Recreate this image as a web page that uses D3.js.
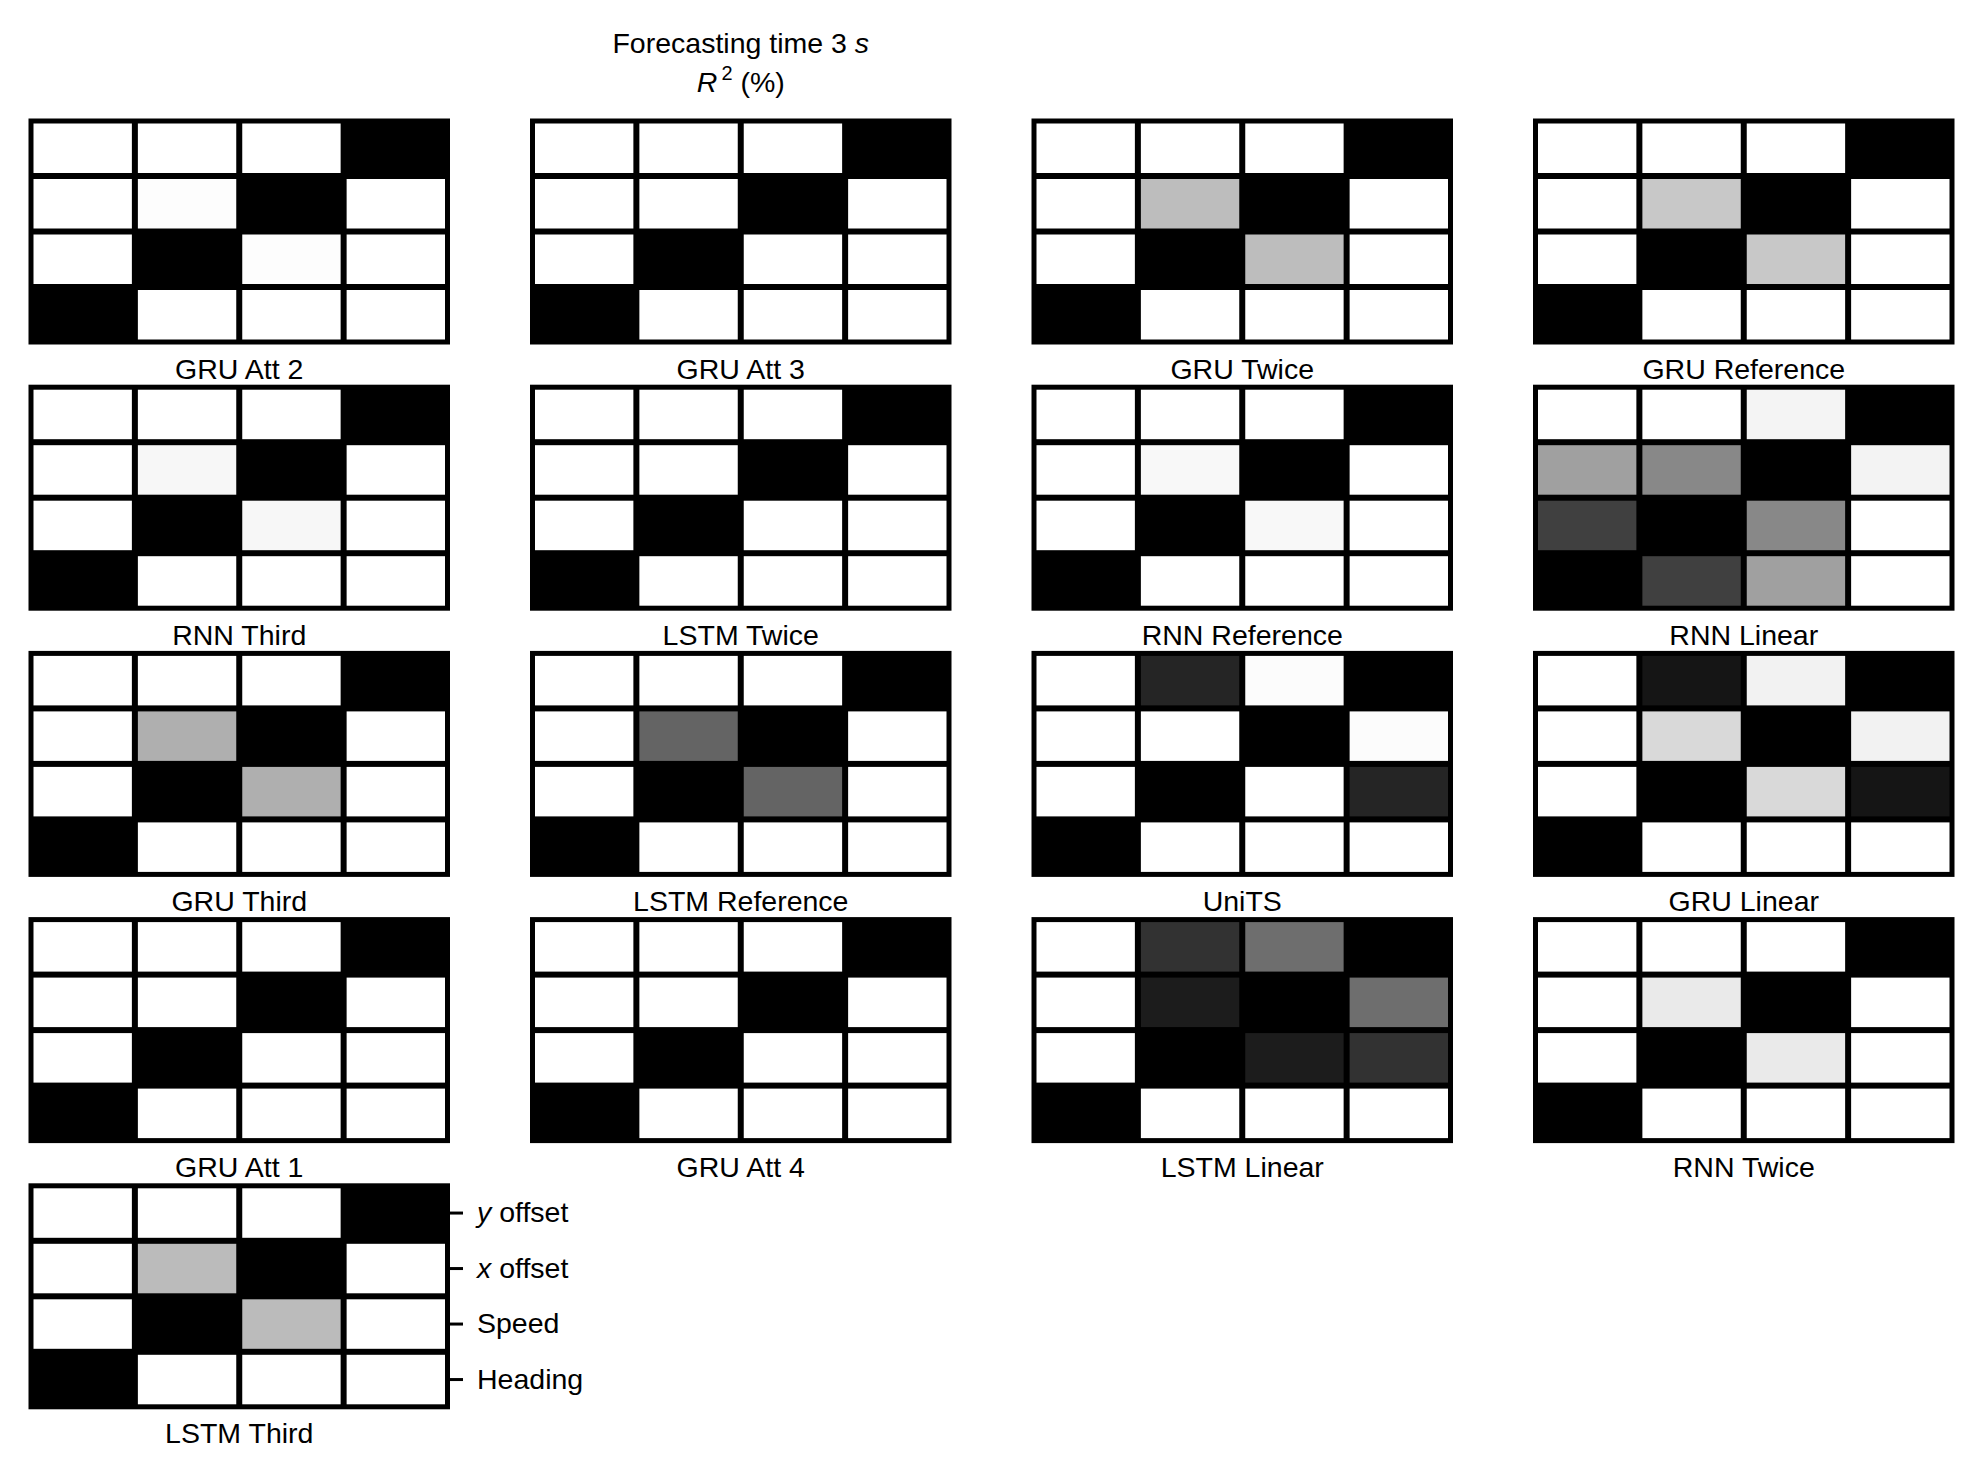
<!DOCTYPE html>
<html>
<head>
<meta charset="utf-8">
<script src="https://cdn.jsdelivr.net/npm/d3@7"></script>
<style>
  html, body { margin: 0; padding: 0; background: #ffffff; }
  svg { display: block; }
  text { font-family: "Liberation Sans", Arial, Helvetica, sans-serif; fill: #000; }
</style>
</head>
<body>
<svg id="chart" width="1982" height="1481"></svg>
<script>
// ---------------- DATA ----------------
// Rows (top to bottom) and columns (left to right) of every 4x4 matrix
const rowFeatures = ["y offset", "x offset", "Speed", "Heading"];
const colFeatures = ["Heading", "Speed", "x offset", "y offset"];

// Panel order (row-major, 4 panels per row)
const modelNames = [
  "GRU Att 2", "GRU Att 3", "GRU Twice", "GRU Reference",
  "RNN Third", "LSTM Twice", "RNN Reference", "RNN Linear",
  "GRU Third", "LSTM Reference", "UniTS", "GRU Linear",
  "GRU Att 1", "GRU Att 4", "LSTM Linear", "RNN Twice",
  "LSTM Third"
];

// R^2 (%) matrices (rows = rowFeatures, cols = colFeatures)
const gruAtt2      = [[0, 0, 0, 100], [0, 0.8, 100, 0], [0, 100, 0.8, 0], [100, 0, 0, 0]];
const gruAtt3      = [[0, 0, 0, 100], [0, 0, 100, 0], [0, 100, 0, 0], [100, 0, 0, 0]];
const gruTwice     = [[0, 0, 0, 100], [0, 25.9, 100, 0], [0, 100, 25.9, 0], [100, 0, 0, 0]];
const gruReference = [[0, 0, 0, 100], [0, 21.6, 100, 0], [0, 100, 21.6, 0], [100, 0, 0, 0]];
const rnnThird     = [[0, 0, 0, 100], [0, 3.0, 100, 0], [0, 100, 3.0, 0], [100, 0, 0, 0]];
const lstmTwice    = [[0, 0, 0, 100], [0, 0, 100, 0], [0, 100, 0, 0], [100, 0, 0, 0]];
const rnnReference = [[0, 0, 0, 100], [0, 2.7, 100, 0], [0, 100, 2.7, 0], [100, 0, 0, 0]];
const rnnLinear    = [[0, 0, 4.3, 100], [37.3, 46.7, 100, 4.7], [74.9, 100, 46.7, 0], [100, 74.9, 37.3, 0]];
const gruThird     = [[0, 0, 0, 100], [0, 31.4, 100, 0], [0, 100, 31.4, 0], [100, 0, 0, 0]];
const lstmReference= [[0, 0, 0, 100], [0, 60.8, 100, 0], [0, 100, 60.8, 0], [100, 0, 0, 0]];
const uniTS        = [[0, 85.5, 1.2, 100], [0, 0, 100, 1.2], [0, 100, 0, 85.5], [100, 0, 0, 0]];
const gruLinear    = [[0, 91.8, 5.1, 100], [0, 14.9, 100, 5.1], [0, 100, 14.9, 91.8], [100, 0, 0, 0]];
const gruAtt1      = [[0, 0, 0, 100], [0, 0, 100, 0], [0, 100, 0, 0], [100, 0, 0, 0]];
const gruAtt4      = [[0, 0, 0, 100], [0, 0, 100, 0], [0, 100, 0, 0], [100, 0, 0, 0]];
const lstmLinear   = [[0, 80.4, 56.9, 100], [0, 89.0, 100, 56.9], [0, 100, 89.0, 80.4], [100, 0, 0, 0]];
const rnnTwice     = [[0, 0, 0, 100], [0, 8.2, 100, 0], [0, 100, 8.2, 0], [100, 0, 0, 0]];
const lstmThird    = [[0, 0, 0, 100], [0, 26.7, 100, 0], [0, 100, 26.7, 0], [100, 0, 0, 0]];

const matrices = [
  gruAtt2, gruAtt3, gruTwice, gruReference,
  rnnThird, lstmTwice, rnnReference, rnnLinear,
  gruThird, lstmReference, uniTS, gruLinear,
  gruAtt1, gruAtt4, lstmLinear, rnnTwice,
  lstmThird
];

const titleLine1 = "Forecasting time 3 ";
const titleUnit = "s";

// ---------------- LAYOUT ----------------
const svg = d3.select("#chart");
svg.append("rect").attr("width", 1982).attr("height", 1481).attr("fill", "#fff");

const panelW = 421.5, panelH = 226;
const colLeft = d3.scaleLinear().domain([0, 1]).range([28.5, 530]);     // step per column
const rowTop = d3.scaleLinear().domain([0, 1]).range([118.5, 384.7]);   // step per row
const FONT = 28.5;

const color = d3.scaleLinear().domain([0, 100]).range(["#ffffff", "#000000"]).clamp(true);
const x = d3.scaleBand().domain(colFeatures).range([2, panelW - 2]);
const y = d3.scaleBand().domain(rowFeatures).range([2, panelH - 2]);
const gap = 3;   // half of the black grid line width

modelNames.forEach((name, i) => {
  const c = i % 4, r = Math.floor(i / 4);
  const g = svg.append("g")
    .attr("transform", `translate(${colLeft(c)},${rowTop(r)})`);

  // black frame / grid background
  g.append("rect")
    .attr("x", 0).attr("y", 0)
    .attr("width", panelW).attr("height", panelH)
    .attr("fill", "#000");

  const cells = [];
  matrices[i].forEach((row, ri) => row.forEach((v, ci) => {
    cells.push({ row: rowFeatures[ri], col: colFeatures[ci], v });
  }));

  g.selectAll("rect.cell").data(cells).join("rect")
    .attr("class", "cell")
    .attr("x", d => x(d.col) + gap)
    .attr("y", d => y(d.row) + gap)
    .attr("width", x.bandwidth() - 2 * gap)
    .attr("height", y.bandwidth() - 2 * gap)
    .attr("fill", d => color(d.v));

  // label below the panel
  g.append("text")
    .attr("x", panelW / 2)
    .attr("y", panelH + 34)
    .attr("text-anchor", "middle")
    .attr("font-size", FONT)
    .text(name);

  // right-side axis on the last panel
  if (i === modelNames.length - 1) {
    const ax = g.append("g")
      .attr("transform", `translate(${panelW},0)`)
      .call(d3.axisRight(y).tickSize(13).tickPadding(14));
    ax.select(".domain").remove();
    ax.selectAll(".tick line").attr("stroke", "#000").attr("stroke-width", 3);
    ax.selectAll(".tick text")
      .attr("font-size", FONT)
      .attr("font-family", '"Liberation Sans", Arial, sans-serif')
      .attr("fill", "#000")
      .each(function(d) {
        const t = d3.select(this);
        const m = d.match(/^([xy]) (.*)$/);
        if (m) {
          t.text(null);
          t.append("tspan").attr("font-style", "italic").text(m[1]);
          t.append("tspan").text(" " + m[2]);
        }
      });
  }
});

// ---------------- TITLE ----------------
const titleX = colLeft(1) + panelW / 2;
const t1 = svg.append("text")
  .attr("x", titleX).attr("y", 53)
  .attr("text-anchor", "middle")
  .attr("font-size", FONT);
t1.append("tspan").text(titleLine1);
t1.append("tspan").attr("font-style", "italic").text(titleUnit);

const t2 = svg.append("text")
  .attr("x", titleX).attr("y", 92)
  .attr("text-anchor", "middle")
  .attr("font-size", FONT);
t2.append("tspan").attr("font-style", "italic").text("R");
t2.append("tspan").attr("font-size", FONT * 0.7).attr("dy", -12).attr("dx", 4).text("2");
t2.append("tspan").attr("dy", 12).text(" (%)");
</script>
</body>
</html>
